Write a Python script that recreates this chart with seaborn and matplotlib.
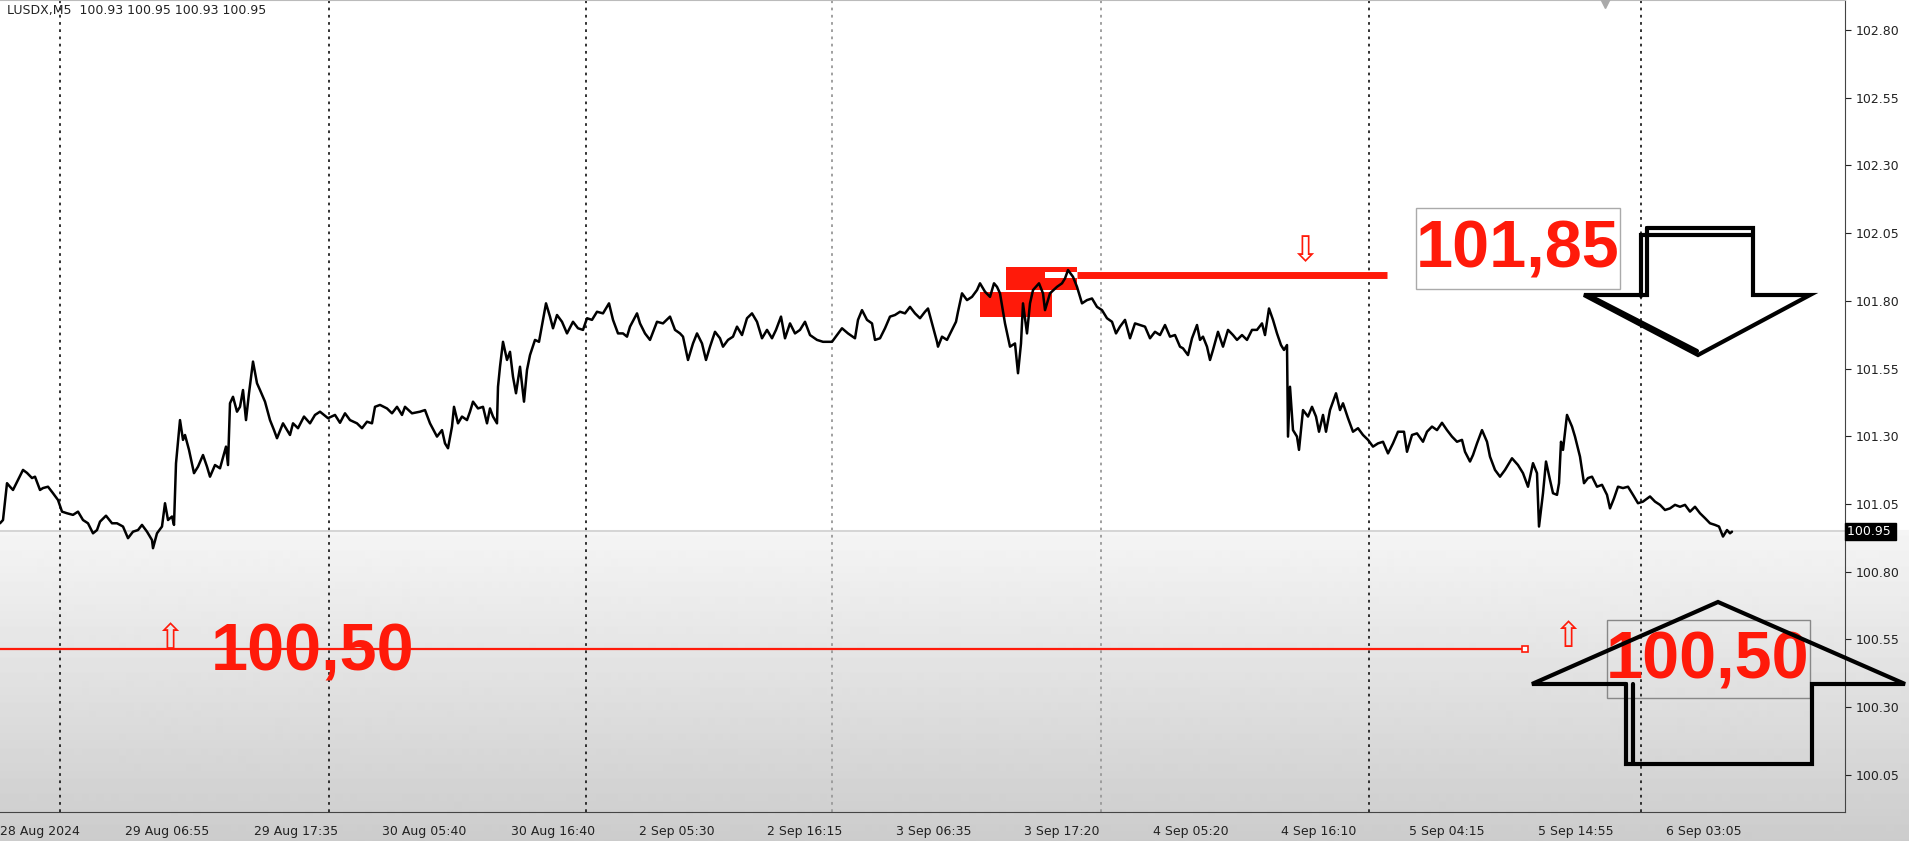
import numpy as np
import pandas as pd
import matplotlib
matplotlib.use('Agg')
import matplotlib.pyplot as plt
import seaborn as sns
from matplotlib.patches import Rectangle
from matplotlib.lines import Line2D
from matplotlib.transforms import blended_transform_factory

sns.set_style('white')
plt.rcParams['font.family'] = ['DejaVu Sans']

# M5 closes (bar index ~ one bar per pixel)
bars = [0, 3, 7, 10, 13, 18, 23, 27, 32, 35, 40, 43, 48, 53, 58, 62, 67, 73, 78, 83, 88, 93, 97, 100, 106,
        112, 117, 123, 128, 133, 138, 142, 147, 152, 153, 157, 162, 165, 168, 172, 174, 176, 180, 183, 185,
        189, 194, 198, 203, 207, 210, 215, 220, 226, 228, 230, 233, 237, 240, 243, 246, 249, 253, 257, 260,
        265, 270, 274, 277, 283, 287, 290, 293, 298, 304, 310, 315, 320, 328, 335, 340, 345, 350, 357, 362,
        367, 372, 375, 380, 387, 392, 397, 402, 405, 412, 420, 425, 430, 437, 442, 445, 448, 452, 454, 458,
        462, 467, 470, 473, 478, 483, 487, 490, 493, 497, 498, 500, 503, 507, 510, 513, 516, 520, 524, 527,
        530, 535, 539, 543, 546, 550, 553, 557, 562, 567, 573, 578, 583, 587, 592, 597, 603, 609, 613, 618,
        623, 627, 630, 637, 640, 645, 650, 657, 663, 670, 675, 680, 683, 688, 693, 697, 702, 706, 710, 715,
        720, 723, 728, 733, 737, 742, 747, 752, 757, 762, 767, 772, 776, 781, 785, 790, 795, 800, 805, 810,
        817, 823, 832, 837, 842, 848, 855, 858, 862, 867, 872, 875, 880, 885, 890, 895, 900, 905, 910, 915,
        920, 925, 928, 932, 937, 938, 942, 947, 952, 956, 958, 962, 967, 972, 977, 980, 985, 990, 994, 997,
        1000, 1005, 1010, 1015, 1018, 1021, 1023, 1027, 1030, 1033, 1039, 1043, 1045, 1050, 1057, 1062, 1065,
        1068, 1073, 1077, 1082, 1087, 1092, 1097, 1102, 1107, 1112, 1116, 1120, 1125, 1130, 1135, 1140, 1145,
        1150, 1155, 1160, 1165, 1170, 1175, 1180, 1183, 1188, 1192, 1197, 1200, 1203, 1207, 1210, 1213, 1218,
        1223, 1228, 1233, 1237, 1242, 1247, 1252, 1257, 1262, 1265, 1269, 1273, 1277, 1281, 1284, 1287, 1288,
        1290, 1293, 1297, 1299, 1303, 1308, 1312, 1316, 1319, 1323, 1326, 1330, 1336, 1340, 1343, 1348, 1353,
        1358, 1363, 1368, 1373, 1378, 1383, 1388, 1393, 1398, 1404, 1407, 1412, 1417, 1423, 1427, 1432, 1437,
        1442, 1447, 1452, 1457, 1462, 1465, 1470, 1473, 1477, 1482, 1487, 1490, 1495, 1500, 1505, 1512, 1518,
        1523, 1528, 1533, 1537, 1539, 1543, 1546, 1550, 1553, 1557, 1559, 1561, 1563, 1567, 1572, 1575, 1580,
        1584, 1588, 1592, 1597, 1602, 1607, 1610, 1614, 1618, 1623, 1628, 1633, 1638, 1643, 1650, 1655, 1660,
        1665, 1670, 1675, 1680, 1685, 1690, 1695, 1700, 1705, 1710, 1715, 1719, 1723, 1727, 1730, 1732]
close = [100.979, 100.991, 101.127, 101.114, 101.102, 101.139, 101.176, 101.165, 101.146, 101.151, 101.102,
         101.109, 101.114, 101.090, 101.065, 101.022, 101.016, 101.010, 101.022, 100.991, 100.979, 100.942,
         100.954, 100.985, 101.007, 100.979, 100.979, 100.967, 100.924, 100.948, 100.954, 100.973, 100.948,
         100.917, 100.887, 100.942, 100.967, 101.053, 100.991, 101.004, 100.973, 101.200, 101.360, 101.287,
         101.305, 101.250, 101.164, 101.188, 101.231, 101.188, 101.151, 101.194, 101.182, 101.262, 101.194,
         101.422, 101.446, 101.391, 101.409, 101.471, 101.360, 101.459, 101.576, 101.496, 101.471, 101.428,
         101.360, 101.323, 101.293, 101.348, 101.323, 101.305, 101.348, 101.330, 101.373, 101.348, 101.379,
         101.391, 101.367, 101.379, 101.350, 101.385, 101.360, 101.348, 101.330, 101.354, 101.348, 101.409,
         101.416, 101.403, 101.385, 101.409, 101.379, 101.409, 101.385, 101.391, 101.397, 101.348, 101.299,
         101.323, 101.274, 101.256, 101.336, 101.409, 101.348, 101.373, 101.360, 101.391, 101.428, 101.403,
         101.409, 101.348, 101.403, 101.373, 101.348, 101.483, 101.557, 101.649, 101.582, 101.612, 101.520,
         101.459, 101.557, 101.428, 101.545, 101.600, 101.656, 101.649, 101.730, 101.791, 101.742, 101.699,
         101.748, 101.723, 101.680, 101.723, 101.699, 101.693, 101.736, 101.730, 101.760, 101.754, 101.791,
         101.730, 101.680, 101.680, 101.668, 101.705, 101.754, 101.717, 101.680, 101.656, 101.723, 101.717,
         101.742, 101.693, 101.680, 101.668, 101.582, 101.643, 101.680, 101.643, 101.582, 101.631, 101.686,
         101.662, 101.631, 101.656, 101.668, 101.705, 101.674, 101.736, 101.754, 101.723, 101.662, 101.693,
         101.662, 101.693, 101.742, 101.662, 101.717, 101.680, 101.693, 101.723, 101.674, 101.656, 101.649,
         101.649, 101.674, 101.699, 101.680, 101.662, 101.730, 101.766, 101.730, 101.717, 101.656, 101.662,
         101.699, 101.742, 101.748, 101.760, 101.754, 101.778, 101.754, 101.736, 101.760, 101.772, 101.717,
         101.649, 101.631, 101.668, 101.656, 101.693, 101.723, 101.760, 101.828, 101.803, 101.815, 101.840,
         101.865, 101.834, 101.815, 101.865, 101.852, 101.828, 101.717, 101.631, 101.643, 101.533, 101.643,
         101.791, 101.680, 101.791, 101.840, 101.865, 101.828, 101.766, 101.828, 101.852, 101.865, 101.883,
         101.914, 101.889, 101.852, 101.791, 101.803, 101.809, 101.778, 101.766, 101.736, 101.723, 101.680,
         101.705, 101.730, 101.662, 101.717, 101.711, 101.705, 101.662, 101.686, 101.674, 101.711, 101.668,
         101.674, 101.631, 101.625, 101.600, 101.662, 101.711, 101.656, 101.668, 101.631, 101.582, 101.619,
         101.686, 101.631, 101.693, 101.674, 101.656, 101.674, 101.656, 101.693, 101.693, 101.717, 101.674,
         101.772, 101.730, 101.680, 101.637, 101.619, 101.637, 101.299, 101.483, 101.323, 101.299, 101.250,
         101.397, 101.373, 101.409, 101.373, 101.317, 101.379, 101.317, 101.397, 101.459, 101.397, 101.422,
         101.367, 101.317, 101.330, 101.305, 101.287, 101.262, 101.274, 101.280, 101.237, 101.274, 101.317,
         101.317, 101.243, 101.305, 101.311, 101.280, 101.317, 101.336, 101.323, 101.350, 101.323, 101.299,
         101.280, 101.287, 101.243, 101.207, 101.231, 101.274, 101.323, 101.280, 101.225, 101.176, 101.151,
         101.176, 101.219, 101.194, 101.164, 101.114, 101.201, 101.164, 100.967, 101.090, 101.207, 101.139,
         101.090, 101.084, 101.127, 101.280, 101.250, 101.379, 101.336, 101.299, 101.225, 101.127, 101.146,
         101.151, 101.114, 101.121, 101.084, 101.034, 101.071, 101.114, 101.109, 101.114, 101.084, 101.053,
         101.059, 101.078, 101.059, 101.047, 101.028, 101.034, 101.047, 101.040, 101.047, 101.022, 101.040,
         101.016, 100.998, 100.979, 100.973, 100.967, 100.930, 100.954, 100.942, 100.948]

time_labels = ['28 Aug 2024', '29 Aug 06:55', '29 Aug 17:35', '30 Aug 05:40', '30 Aug 16:40',
               '2 Sep 05:30', '2 Sep 16:15', '3 Sep 06:35', '3 Sep 17:20', '4 Sep 05:20',
               '4 Sep 16:10', '5 Sep 04:15', '5 Sep 14:55', '6 Sep 03:05']
price_ticks = [102.80, 102.55, 102.30, 102.05, 101.80, 101.55, 101.30, 101.05, 100.80, 100.55, 100.30, 100.05]
day_breaks = [60, 329, 586, 832, 1101, 1369, 1641]
header = 'LUSDX,M5  100.93 100.95 100.93 100.95'
last_price = 100.95
support = 100.515
resistance = 101.897
support_text = '100,50'
resistance_text = '101,85'

W, H = 1909, 841
RED = '#ff1a0a'

df = pd.DataFrame({'bar': bars, 'close': close})

fig = plt.figure(figsize=(W / 100, H / 100), dpi=100)
fig.patch.set_facecolor('white')

# background: white chart, greyish fade below the bid line
bg = fig.add_axes([0, 0, 1, 1], zorder=-10)
rows = np.arange(H)
shade = np.where(rows < 530, 1.0, 0.96 - 0.16 * (rows - 530) / (H - 530))
bg.imshow(shade[:, None], aspect='auto', extent=[0, 1, 0, 1], cmap='gray', vmin=0, vmax=1)
bg.axis('off')

ax = fig.add_axes([0, 1 - 812 / H, 1845 / W, 812 / H])
ax.set_zorder(1)
ax.patch.set_alpha(0)

ax.set_xlim(0, 1845)
ax.set_ylim(99.913, 102.911)

for xb in day_breaks:
    c = '#999999' if xb in (832, 1101) else '#222222'
    ax.axvline(xb, color=c, ls=(0, (1.5, 2.5)), lw=1.3, zorder=1)

ax.axhline(last_price, color='#cfcfcf', lw=1.2, zorder=1)

# support level
ax.plot([0, 1525], [support, support], color=RED, lw=1.6, zorder=2)
ax.plot(1525, support, marker='s', ms=4, mfc='white', mec=RED, mew=1.2, zorder=3)
ax.text(170, 100.55, '\u21e7', color=RED, fontsize=25, ha='center', va='center', zorder=3)
ax.text(1568, 100.56, '\u21e7', color=RED, fontsize=25, ha='center', va='center', zorder=3)

# resistance zone
ax.add_patch(Rectangle((980, 101.741), 72, 0.092, color=RED, lw=0, zorder=2))
ax.add_patch(Rectangle((1006, 101.840), 71, 0.085, color=RED, lw=0, zorder=2))
ax.add_patch(Rectangle((1045, 101.885), 32, 0.022, color='white', lw=0, zorder=2))
ax.plot([1077, 1387], [resistance, resistance], color=RED, lw=5, solid_capstyle='butt', zorder=2)
ax.text(1305, 101.985, '\u21e9', color=RED, fontsize=25, ha='center', va='center', zorder=3)

sns.lineplot(x='bar', y='close', data=df, color='black', lw=1.8, estimator=None, sort=False, ax=ax, zorder=4)

# labels
ax.add_patch(Rectangle((1416, 101.844), 204, 0.299, fc='white', ec='#aaaaaa', lw=1, zorder=5))
ax.text(1518, 101.985, resistance_text, color=RED, fontsize=48, fontweight='bold',
        family='Liberation Sans', ha='center', va='center', zorder=6)
ax.text(211, 100.50, support_text, color=RED, fontsize=48, fontweight='bold',
        family='Liberation Sans', ha='left', va='center', zorder=6)
ax.add_patch(Rectangle((1607, 100.334), 203, 0.288, fc='none', ec='#888888', lw=1, zorder=5))
ax.text(1708, 100.47, support_text, color=RED, fontsize=48, fontweight='bold',
        family='Liberation Sans', ha='center', va='center', zorder=6)

# axes styling
ax.spines['left'].set_visible(False)
ax.spines['top'].set_color('#bbbbbb')
ax.spines['right'].set_color('#444444')
ax.spines['bottom'].set_color('#444444')
ax.yaxis.tick_right()
ax.set_yticks(price_ticks)
ax.set_yticklabels(['%.2f' % v for v in price_ticks])
ax.tick_params(axis='y', direction='out', length=4, pad=4, labelsize=9, colors='#222222')
xt = [max(0, -3 + 128.4 * k) for k in range(len(time_labels))]
ax.set_xticks(xt)
ax.set_xticklabels(time_labels)
for lbl in ax.get_xticklabels():
    lbl.set_ha('left')
ax.tick_params(axis='x', direction='out', length=5, pad=4, labelsize=9, colors='#222222')
ax.set_xlabel('')
ax.set_ylabel('')

tr = blended_transform_factory(ax.transAxes, ax.transData)
ax.text(1.001, last_price, '100.95 ', transform=tr, color='white', fontsize=9, ha='left', va='center',
        bbox=dict(boxstyle='square,pad=0.15', fc='black', ec='black'), zorder=7, clip_on=False)
ax.text(0.004, 0.995, header, transform=ax.transAxes, fontsize=9, color='#222222', ha='left', va='top')
ax.plot(1605, 102.905, marker='v', ms=8, color='#aaaaaa', clip_on=False, zorder=5)

# hand drawn arrows (figure pixels)
def px(points):
    xs = [p[0] / W for p in points]
    ys = [1 - p[1] / H for p in points]
    return xs, ys

down_arrow = [(1647, 228), (1753, 228), (1753, 295), (1810, 295), (1698, 355), (1584, 295), (1647, 295), (1647, 228)]
down_arrow2 = [(1641, 296), (1641, 235), (1752, 235)]
down_arrow3 = [(1592, 297), (1697, 351)]
up_arrow = [(1626, 684), (1532, 684), (1718, 602), (1905, 684), (1812, 684), (1812, 764), (1626, 764), (1626, 684)]
up_arrow2 = [(1633, 684), (1633, 762)]

for pts in [down_arrow, down_arrow2, down_arrow3, up_arrow, up_arrow2]:
    xs, ys = px(pts)
    fig.add_artist(Line2D(xs, ys, transform=fig.transFigure, color='black', lw=3,
                          solid_joinstyle='miter', zorder=10))

plt.savefig('out.png', dpi=100)
